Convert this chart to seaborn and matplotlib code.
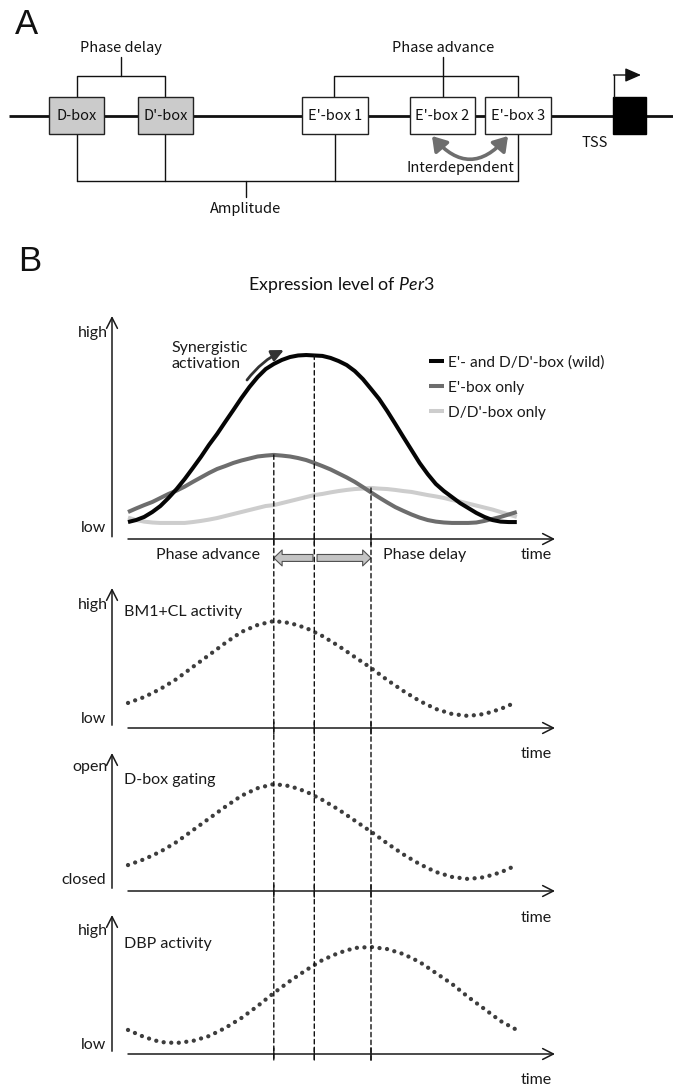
import numpy as np
import pandas as pd
import matplotlib
matplotlib.use("Agg")
import matplotlib.pyplot as plt
import seaborn as sns
from matplotlib.patches import Rectangle, FancyArrowPatch, ConnectionPatch

# ----------------------------- data -----------------------------
hours = list(range(25))                 # time grid of the dotted panels
half_hours = list(np.arange(0, 24.5, 0.5))  # time grid of the expression panel

# Panel B top: expression level of Per3 (0 = low ... 10 = high), read every 0.5 h
wild = [0.76, 0.85, 0.99, 1.21, 1.48, 1.84, 2.24, 2.69, 3.18, 3.68, 4.22, 4.71, 5.25,
        5.78, 6.32, 6.82, 7.26, 7.62, 7.85, 8.03, 8.16, 8.23, 8.25, 8.23, 8.21, 8.12,
        7.98, 7.80, 7.53, 7.17, 6.73, 6.28, 5.74, 5.16, 4.57, 3.99, 3.41, 2.91, 2.47,
        2.15, 1.88, 1.61, 1.39, 1.17, 0.99, 0.85, 0.78, 0.76, 0.76]
ebox_only = [1.21, 1.37, 1.52, 1.66, 1.84, 2.02, 2.17, 2.35, 2.56, 2.76, 2.96, 3.14, 3.27,
             3.41, 3.52, 3.61, 3.70, 3.74, 3.77, 3.74, 3.70, 3.63, 3.54, 3.41, 3.27, 3.12,
             2.94, 2.76, 2.56, 2.33, 2.09, 1.86, 1.64, 1.43, 1.26, 1.10, 0.96, 0.85, 0.78,
             0.74, 0.72, 0.72, 0.72, 0.74, 0.81, 0.90, 0.99, 1.10, 1.21]
dbox_only = [0.96, 0.85, 0.78, 0.74, 0.72, 0.72, 0.72, 0.72, 0.76, 0.81, 0.87, 0.94, 1.03,
             1.12, 1.21, 1.30, 1.39, 1.48, 1.52, 1.61, 1.70, 1.79, 1.88, 1.97, 2.02, 2.09,
             2.15, 2.20, 2.24, 2.26, 2.29, 2.26, 2.24, 2.20, 2.15, 2.11, 2.04, 1.97, 1.91,
             1.84, 1.75, 1.68, 1.59, 1.50, 1.41, 1.32, 1.21, 1.10, 0.99]
series_labels = ["E'- and D/D'-box (wild)", "E'-box only", "D/D'-box only"]

# Dotted panels (0 = low/closed ... 10 = high/open), read every hour
bm1_cl = [1.79, 2.21, 2.79, 3.50, 4.36, 5.21, 6.07, 6.86, 7.36, 7.64, 7.50, 7.14, 6.57,
          5.86, 5.07, 4.29, 3.43, 2.64, 1.93, 1.36, 1.00, 0.86, 1.00, 1.36, 1.86]
dbox_gating = [1.88, 2.30, 2.85, 3.55, 4.40, 5.25, 6.10, 6.90, 7.45, 7.75, 7.60, 7.20, 6.60,
               5.90, 5.10, 4.30, 3.45, 2.65, 1.95, 1.38, 1.02, 0.87, 1.00, 1.35, 1.88]
dbp = [1.73, 1.22, 0.86, 0.79, 0.94, 1.29, 1.87, 2.59, 3.45, 4.39, 5.25, 6.04, 6.76,
       7.27, 7.63, 7.70, 7.55, 7.19, 6.62, 5.83, 5.04, 4.10, 3.24, 2.37, 1.73]

phase_times = [9.0, 11.5, 15.0]   # E'-box only peak, wild peak, D/D'-box only peak

# Panel A elements
box_names = ["D-box", "D'-box", "E'-box 1", "E'-box 2", "E'-box 3"]
box_kinds = ["D", "D", "E", "E", "E"]

# ----------------------------- style -----------------------------
sns.set_style("white")
plt.rcParams["font.family"] = ["Lato", "DejaVu Sans"]
plt.rcParams["mathtext.fontset"] = "custom"
plt.rcParams["mathtext.it"] = "Lato:italic"
plt.rcParams["mathtext.rm"] = "Lato"

W, H = 673, 1088
fig = plt.figure(figsize=(W / 100, H / 100), dpi=100)
fig.patch.set_facecolor("white")

def px_axes(l, t, r, b):
    return fig.add_axes([l / W, 1 - b / H, (r - l) / W, (b - t) / H])

JP = ["Noto Sans CJK JP", "DejaVu Sans"]
LINE = "#111111"

# ============================ Panel A ============================
axA = px_axes(0, 0, W, 230)
axA.set_xlim(0, W)
axA.set_ylim(230, 0)
axA.axis("off")

axA.text(15, 25, "A", fontsize=25, family=["Liberation Sans", "DejaVu Sans"],
         ha="left", va="center", color="#111111")

axA.plot([9, W], [116, 116], color=LINE, lw=2.0, zorder=1, solid_capstyle="butt")

box_x = [(49, 104), (138, 193), (302, 368), (410, 475), (485, 551)]
for name, kind, (x0, x1) in zip(box_names, box_kinds, box_x):
    fc = "#cbcbcb" if kind == "D" else "white"
    axA.add_patch(Rectangle((x0, 97), x1 - x0, 37, facecolor=fc, edgecolor="#222222",
                            lw=1.0, zorder=2))
    axA.text((x0 + x1) / 2, 116, name, ha="center", va="center", fontsize=10.5,
             family=JP, zorder=3, color="#111111")

# TSS
axA.add_patch(Rectangle((613, 97), 33, 37, facecolor="black", edgecolor="black", zorder=2))
axA.plot([614, 614], [97, 75], color=LINE, lw=1.0, zorder=2)
axA.annotate("", xy=(641, 75), xytext=(613.5, 75),
             arrowprops=dict(arrowstyle="-|>,head_length=0.8,head_width=0.35",
                             color=LINE, lw=1.0, shrinkA=0, shrinkB=0, mutation_scale=12))
axA.text(595, 143, "TSS", ha="center", va="center", fontsize=10.5, family=JP, color="#111111")

blw = 1.0
axA.plot([77, 77, 165, 165], [97, 76, 76, 97], color=LINE, lw=blw, zorder=1)
axA.plot([121, 121], [76, 57], color=LINE, lw=blw, zorder=1)
axA.text(121, 48, "Phase delay", ha="center", va="center", fontsize=10.5, family=JP, color="#111111")
axA.plot([334, 334, 518, 518], [97, 76, 76, 97], color=LINE, lw=blw, zorder=1)
axA.plot([443, 443], [57, 97], color=LINE, lw=blw, zorder=1)
axA.text(443, 48, "Phase advance", ha="center", va="center", fontsize=10.5, family=JP, color="#111111")
for xv in (77, 165, 335, 518):
    axA.plot([xv, xv], [134, 181], color=LINE, lw=blw, zorder=1)
axA.plot([77, 518], [181, 181], color=LINE, lw=blw, zorder=1)
axA.plot([246, 246], [181, 197], color=LINE, lw=blw, zorder=1)
axA.text(246, 209, "Amplitude", ha="center", va="center", fontsize=10.5, family=JP, color="#111111")

axA.add_patch(FancyArrowPatch((432, 136), (508, 136), connectionstyle="arc3,rad=0.58",
                              arrowstyle="<|-|>,head_length=0.7,head_width=0.45",
                              mutation_scale=12, color="#6e6e6e", lw=2.6,
                              shrinkA=0, shrinkB=0, zorder=3))
axA.text(460, 168, "Interdependent", ha="center", va="center", fontsize=10.5, family=JP, color="#111111")

# ============================ Panel B ============================
fig.text(18 / W, 1 - 261.5 / H, "B", fontsize=25, family=["Liberation Sans", "DejaVu Sans"],
         ha="left", va="center", color="#111111")
fig.text(341 / W, 1 - 285 / H, r"Expression level of $\mathit{Per3}$", fontsize=12.8,
         ha="center", va="center", color="#111111")

X_LEFT, X_RIGHT = 112, 555
T0_PX, PX_PER_H = 128, 16.2
xlim = ((X_LEFT - T0_PX) / PX_PER_H, (X_RIGHT - T0_PX) / PX_PER_H)

ax_top = px_axes(X_LEFT, 316, X_RIGHT, 539)
ax_bm = px_axes(X_LEFT, 588, X_RIGHT, 728)
ax_gate = px_axes(X_LEFT, 753, X_RIGHT, 891)
ax_dbp = px_axes(X_LEFT, 915, X_RIGHT, 1054)

TXT = "#1a1a1a"
FS = 11.5

def setup_axis(ax, hi, lo, hi_y, lo_y, ybottom_gap, time_off):
    ax.set_xlim(*xlim)
    ax.set_ylim(0, 10)
    ax.set_axis_off()
    ax.annotate("", xy=(0, 1), xytext=(0, ybottom_gap), xycoords="axes fraction",
                arrowprops=dict(arrowstyle="->,head_length=0.55,head_width=0.28", lw=1.1,
                                color=TXT, shrinkA=0, shrinkB=0, mutation_scale=14))
    ax.annotate("", xy=(1, 0), xycoords="axes fraction", xytext=(hours[0], 0),
                textcoords="data",
                arrowprops=dict(arrowstyle="->,head_length=0.55,head_width=0.28", lw=1.1,
                                color=TXT, shrinkA=0, shrinkB=0, mutation_scale=14))
    ax.annotate(hi, xy=(0, hi_y), xycoords="axes fraction", xytext=(-4, 0),
                textcoords="offset pixels", ha="right", va="center", fontsize=FS, color=TXT)
    ax.annotate(lo, xy=(0, lo_y), xycoords="axes fraction", xytext=(-6, 0),
                textcoords="offset pixels", ha="right", va="center", fontsize=FS, color=TXT)
    ax.annotate("time", xy=((536 - X_LEFT) / (X_RIGHT - X_LEFT), 0), xycoords="axes fraction",
                xytext=(0, -time_off), textcoords="offset pixels", ha="center", va="center",
                fontsize=FS, color=TXT)
    for t in phase_times:
        for d in (6, -6):
            ax.annotate("", xy=(t, 0), xycoords="data", xytext=(0, d), textcoords="offset pixels",
                        arrowprops=dict(arrowstyle="-", lw=1.0, color=TXT, shrinkA=0, shrinkB=0))

setup_axis(ax_top, "high", "low", (539 - 333) / 223, (539 - 528) / 223, 0.01, 16)
setup_axis(ax_bm, "high", "low", (728 - 605) / 140, (728 - 719) / 140, 0.02, 26)
setup_axis(ax_gate, "open", "closed", (891 - 767) / 138, (891 - 880) / 138, 0.02, 27)
setup_axis(ax_dbp, "high", "low", (1054 - 931) / 139, (1054 - 1045) / 139, 0.02, 26)

# --- top curves (seaborn) ---
top_colors = ["#050505", "#6d6d6d", "#cdcdcd"]
top_series = [wild, ebox_only, dbox_only]
for i in [2, 1, 0]:
    sns.lineplot(x=half_hours, y=top_series[i], ax=ax_top, color=top_colors[i], lw=2.9,
                 label=series_labels[i], solid_capstyle="butt", zorder=3 + (i == 0))
ax_top.set_axis_off()
handles, labels = ax_top.get_legend_handles_labels()
hl = dict(zip(labels, handles))
leg = ax_top.legend([hl[l] for l in series_labels], series_labels, loc="upper left",
                    bbox_to_anchor=(429 / W, 1 - 355 / H), bbox_transform=fig.transFigure,
                    frameon=False, handlelength=0.95, handletextpad=0.3, labelspacing=0.72,
                    borderpad=0, borderaxespad=0, fontsize=11.2)
for t in leg.get_texts():
    t.set_color(TXT)

ax_top.text((171 - T0_PX) / PX_PER_H, (539 - 356) / 22.3, "Synergistic\nactivation",
            ha="left", va="center", fontsize=FS, color=TXT, linespacing=1.25)
ax_top.annotate("", xy=((284 - T0_PX) / PX_PER_H, (539 - 350) / 22.3),
                xytext=((247 - T0_PX) / PX_PER_H, (539 - 380) / 22.3),
                arrowprops=dict(arrowstyle="-|>,head_length=0.6,head_width=0.28", lw=2.0,
                                color="#333333", shrinkA=0, shrinkB=0, mutation_scale=12,
                                connectionstyle="arc3,rad=-0.12"), zorder=6)

ax_top.annotate("Phase advance", xy=((208 - X_LEFT) / (X_RIGHT - X_LEFT), 0), xycoords="axes fraction",
                xytext=(0, -16), textcoords="offset pixels", ha="center", va="center",
                fontsize=FS, color=TXT)
ax_top.annotate("Phase delay", xy=((383 - X_LEFT) / (X_RIGHT - X_LEFT), 0), xycoords="axes fraction",
                xytext=(0, -16), textcoords="offset pixels", ha="left", va="center",
                fontsize=FS, color=TXT)
arr_y = -0.85
for xa, xb in [(phase_times[1] - 0.08, phase_times[0]), (phase_times[1] + 0.17, phase_times[2])]:
    p = FancyArrowPatch((xa, arr_y), (xb, arr_y),
                        arrowstyle="simple,head_length=0.6,head_width=1.15,tail_width=0.5",
                        mutation_scale=10, facecolor="#c4c4c4", edgecolor="#505050", lw=0.8,
                        shrinkA=0, shrinkB=0, clip_on=False, transform=ax_top.transData)
    ax_top.add_patch(p)

# --- dotted panels ---
DOT = "#3d3d3d"
for ax, vals in [(ax_bm, bm1_cl), (ax_gate, dbox_gating), (ax_dbp, dbp)]:
    sns.lineplot(x=hours, y=vals, ax=ax, color=DOT, lw=3.1, linestyle=(0, (0.01, 1.75)),
                 dash_capstyle="round", zorder=3)
    ax.set_axis_off()

ax_bm.text((124 - X_LEFT) / (X_RIGHT - X_LEFT), (728 - 612) / 140, "BM1+CL activity",
           transform=ax_bm.transAxes, ha="left", va="center", fontsize=FS, color=TXT)
ax_gate.text((124 - X_LEFT) / (X_RIGHT - X_LEFT), (891 - 780) / 138, "D-box gating",
             transform=ax_gate.transAxes, ha="left", va="center", fontsize=FS, color=TXT)
ax_dbp.text((124 - X_LEFT) / (X_RIGHT - X_LEFT), (1054 - 944) / 139, "DBP activity",
            transform=ax_dbp.transAxes, ha="left", va="center", fontsize=FS, color=TXT)

# --- dashed phase lines crossing all panels ---
sources = [ebox_only, wild, dbox_only]
for t, src in zip(phase_times, sources):
    cp = ConnectionPatch(xyA=(t, max(src)), coordsA=ax_top.transData,
                         xyB=(t, -0.45), coordsB=ax_dbp.transData,
                         linestyle=(0, (3.2, 2.4)), lw=1.0, color="#111111", zorder=2)
    fig.add_artist(cp)

fig.savefig("out.png", dpi=100, facecolor="white")
